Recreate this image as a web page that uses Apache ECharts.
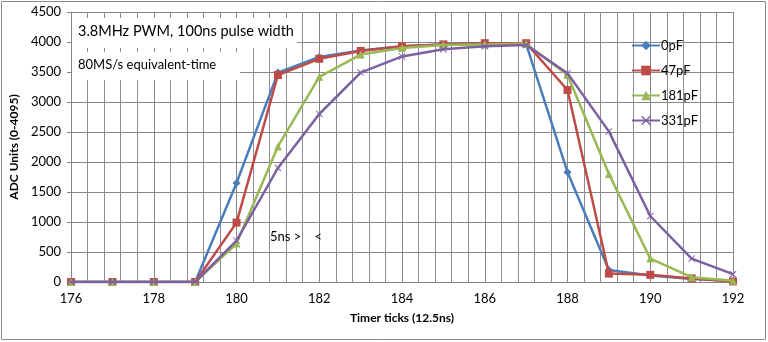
<!DOCTYPE html>
<html>
<head>
<meta charset="utf-8">
<script src="https://cdn.jsdelivr.net/npm/echarts@6/dist/echarts.min.js"></script>
<style>
  html, body { margin: 0; padding: 0; background: #fff; }
  #chart { width: 768px; height: 342px; }
</style>
</head>
<body>
<div id="chart"></div>
<script>
// Timer ticks (12.5 ns each)
const ticks = [176, 177, 178, 179, 180, 181, 182, 183, 184, 185, 186, 187, 188, 189, 190, 191, 192];

// ADC readings per load capacitance
const adc0pF   = [0, 0, 0, 0, 1650, 3490, 3750, 3860, 3930, 3960, 3975, 3965, 1830, 200, 110, 50, 20];
const adc47pF  = [0, 0, 0, 0, 990, 3450, 3720, 3850, 3930, 3960, 3980, 3980, 3200, 140, 120, 60, 10];
const adc181pF = [0, 0, 0, 0, 640, 2260, 3420, 3790, 3900, 3950, 3960, 3970, 3450, 1800, 390, 80, 20];
const adc331pF = [0, 0, 0, 0, 690, 1900, 2800, 3490, 3760, 3880, 3930, 3950, 3480, 2510, 1100, 390, 130];

const seriesNames = ['0pF', '47pF', '181pF', '331pF'];
const yTicks = [0, 500, 1000, 1500, 2000, 2500, 3000, 3500, 4000, 4500];

const FONT = 'Lato, "Open Sans", sans-serif';
const crossPath = 'path://M0,1L1,0L5,4L9,0L10,1L6,5L10,9L9,10L5,6L1,10L0,9L4,5Z';

function pairs(vals) {
  return ticks.map((t, i) => [t, vals[i]]);
}

const styles = [
  { color: '#4A7EBB', symbol: 'diamond', size: 8 },
  { color: '#BE4B48', symbol: 'rect', size: 8 },
  { color: '#98B954', symbol: 'triangle', size: 8 },
  { color: '#7D60A0', symbol: crossPath, size: 7 }
];
const values = [adc0pF, adc47pF, adc181pF, adc331pF];

const chart = echarts.init(document.getElementById('chart'), null, { renderer: 'canvas' });

chart.setOption({
  backgroundColor: '#fff',
  animation: false,
  textStyle: { fontFamily: FONT },
  grid: { left: 65, right: 35, top: 12, bottom: 60, containLabel: false },
  legend: {
    orient: 'vertical',
    left: 626,
    top: 34,
    itemWidth: 28,
    itemHeight: 12,
    itemGap: 12,
    textStyle: { fontFamily: FONT, fontSize: 13, color: '#000', padding: [0, 0, 0, -4] },
    data: seriesNames
  },
  xAxis: {
    type: 'value',
    min: 176,
    max: 192,
    interval: 2,
    name: 'Timer ticks (12.5ns)',
    nameLocation: 'middle',
    nameGap: 30,
    nameTextStyle: { fontFamily: FONT, fontSize: 12, fontWeight: 'bold', color: '#000' },
    axisLine: { show: true, lineStyle: { color: '#868686', width: 1 } },
    axisTick: { show: false },
    axisLabel: { fontFamily: FONT, fontSize: 13, color: '#000', margin: 10 },
    splitLine: { show: true, lineStyle: { color: '#868686', width: 1 } },
    minorTick: { show: false, splitNumber: 5 },
    minorSplitLine: { show: true, lineStyle: { color: '#8e8a96', width: 1 } }
  },
  yAxis: {
    type: 'value',
    min: 0,
    max: 4500,
    interval: 500,
    name: 'ADC Units (0-4095)',
    nameLocation: 'middle',
    nameGap: 42,
    nameRotate: 90,
    nameTextStyle: { fontFamily: FONT, fontSize: 12, fontWeight: 'bold', color: '#000' },
    axisLine: { show: true, lineStyle: { color: '#868686', width: 1 } },
    axisTick: { show: true, length: 4, inside: false, lineStyle: { color: '#868686' } },
    axisLabel: {
      fontFamily: FONT, fontSize: 13, color: '#000', margin: 10,
      formatter: v => (yTicks.indexOf(v) >= 0 ? String(v) : '')
    },
    splitLine: { show: true, lineStyle: { color: '#868686', width: 1 } }
  },
  graphic: [
    {
      type: 'rect',
      shape: { x: 1.5, y: 1.5, width: 764, height: 338 },
      style: { fill: 'none', stroke: '#8a8a8a', lineWidth: 1 },
      silent: true,
      z: 100
    },
    {
      type: 'rect',
      shape: { x: 72, y: 18, width: 225, height: 30 },
      style: { fill: '#fff' },
      z: 50
    },
    {
      type: 'text',
      left: 78, top: 24,
      style: { text: '3.8MHz PWM, 100ns pulse width', fontFamily: FONT, fontSize: 14.5, fill: '#000' },
      z: 51
    },
    {
      type: 'rect',
      shape: { x: 72, y: 52, width: 168, height: 28 },
      style: { fill: '#fff' },
      z: 50
    },
    {
      type: 'text',
      left: 78, top: 58,
      style: { text: '80MS/s equivalent-time', fontFamily: FONT, fontSize: 13, fill: '#000' },
      z: 51
    },
    {
      type: 'text',
      left: 270, top: 230,
      style: { text: '5ns >    <', fontFamily: FONT, fontSize: 13, fill: '#000' },
      z: 51
    }
  ],
  series: seriesNames.map((name, i) => ({
    name,
    type: 'line',
    data: pairs(values[i]),
    symbol: styles[i].symbol,
    symbolSize: styles[i].size,
    showSymbol: true,
    lineStyle: { color: styles[i].color, width: 2.5 },
    itemStyle: { color: styles[i].color, borderColor: styles[i].color, borderWidth: 0 },
    emphasis: { disabled: true },
    z: 10 + i
  }))
});
</script>
</body>
</html>
